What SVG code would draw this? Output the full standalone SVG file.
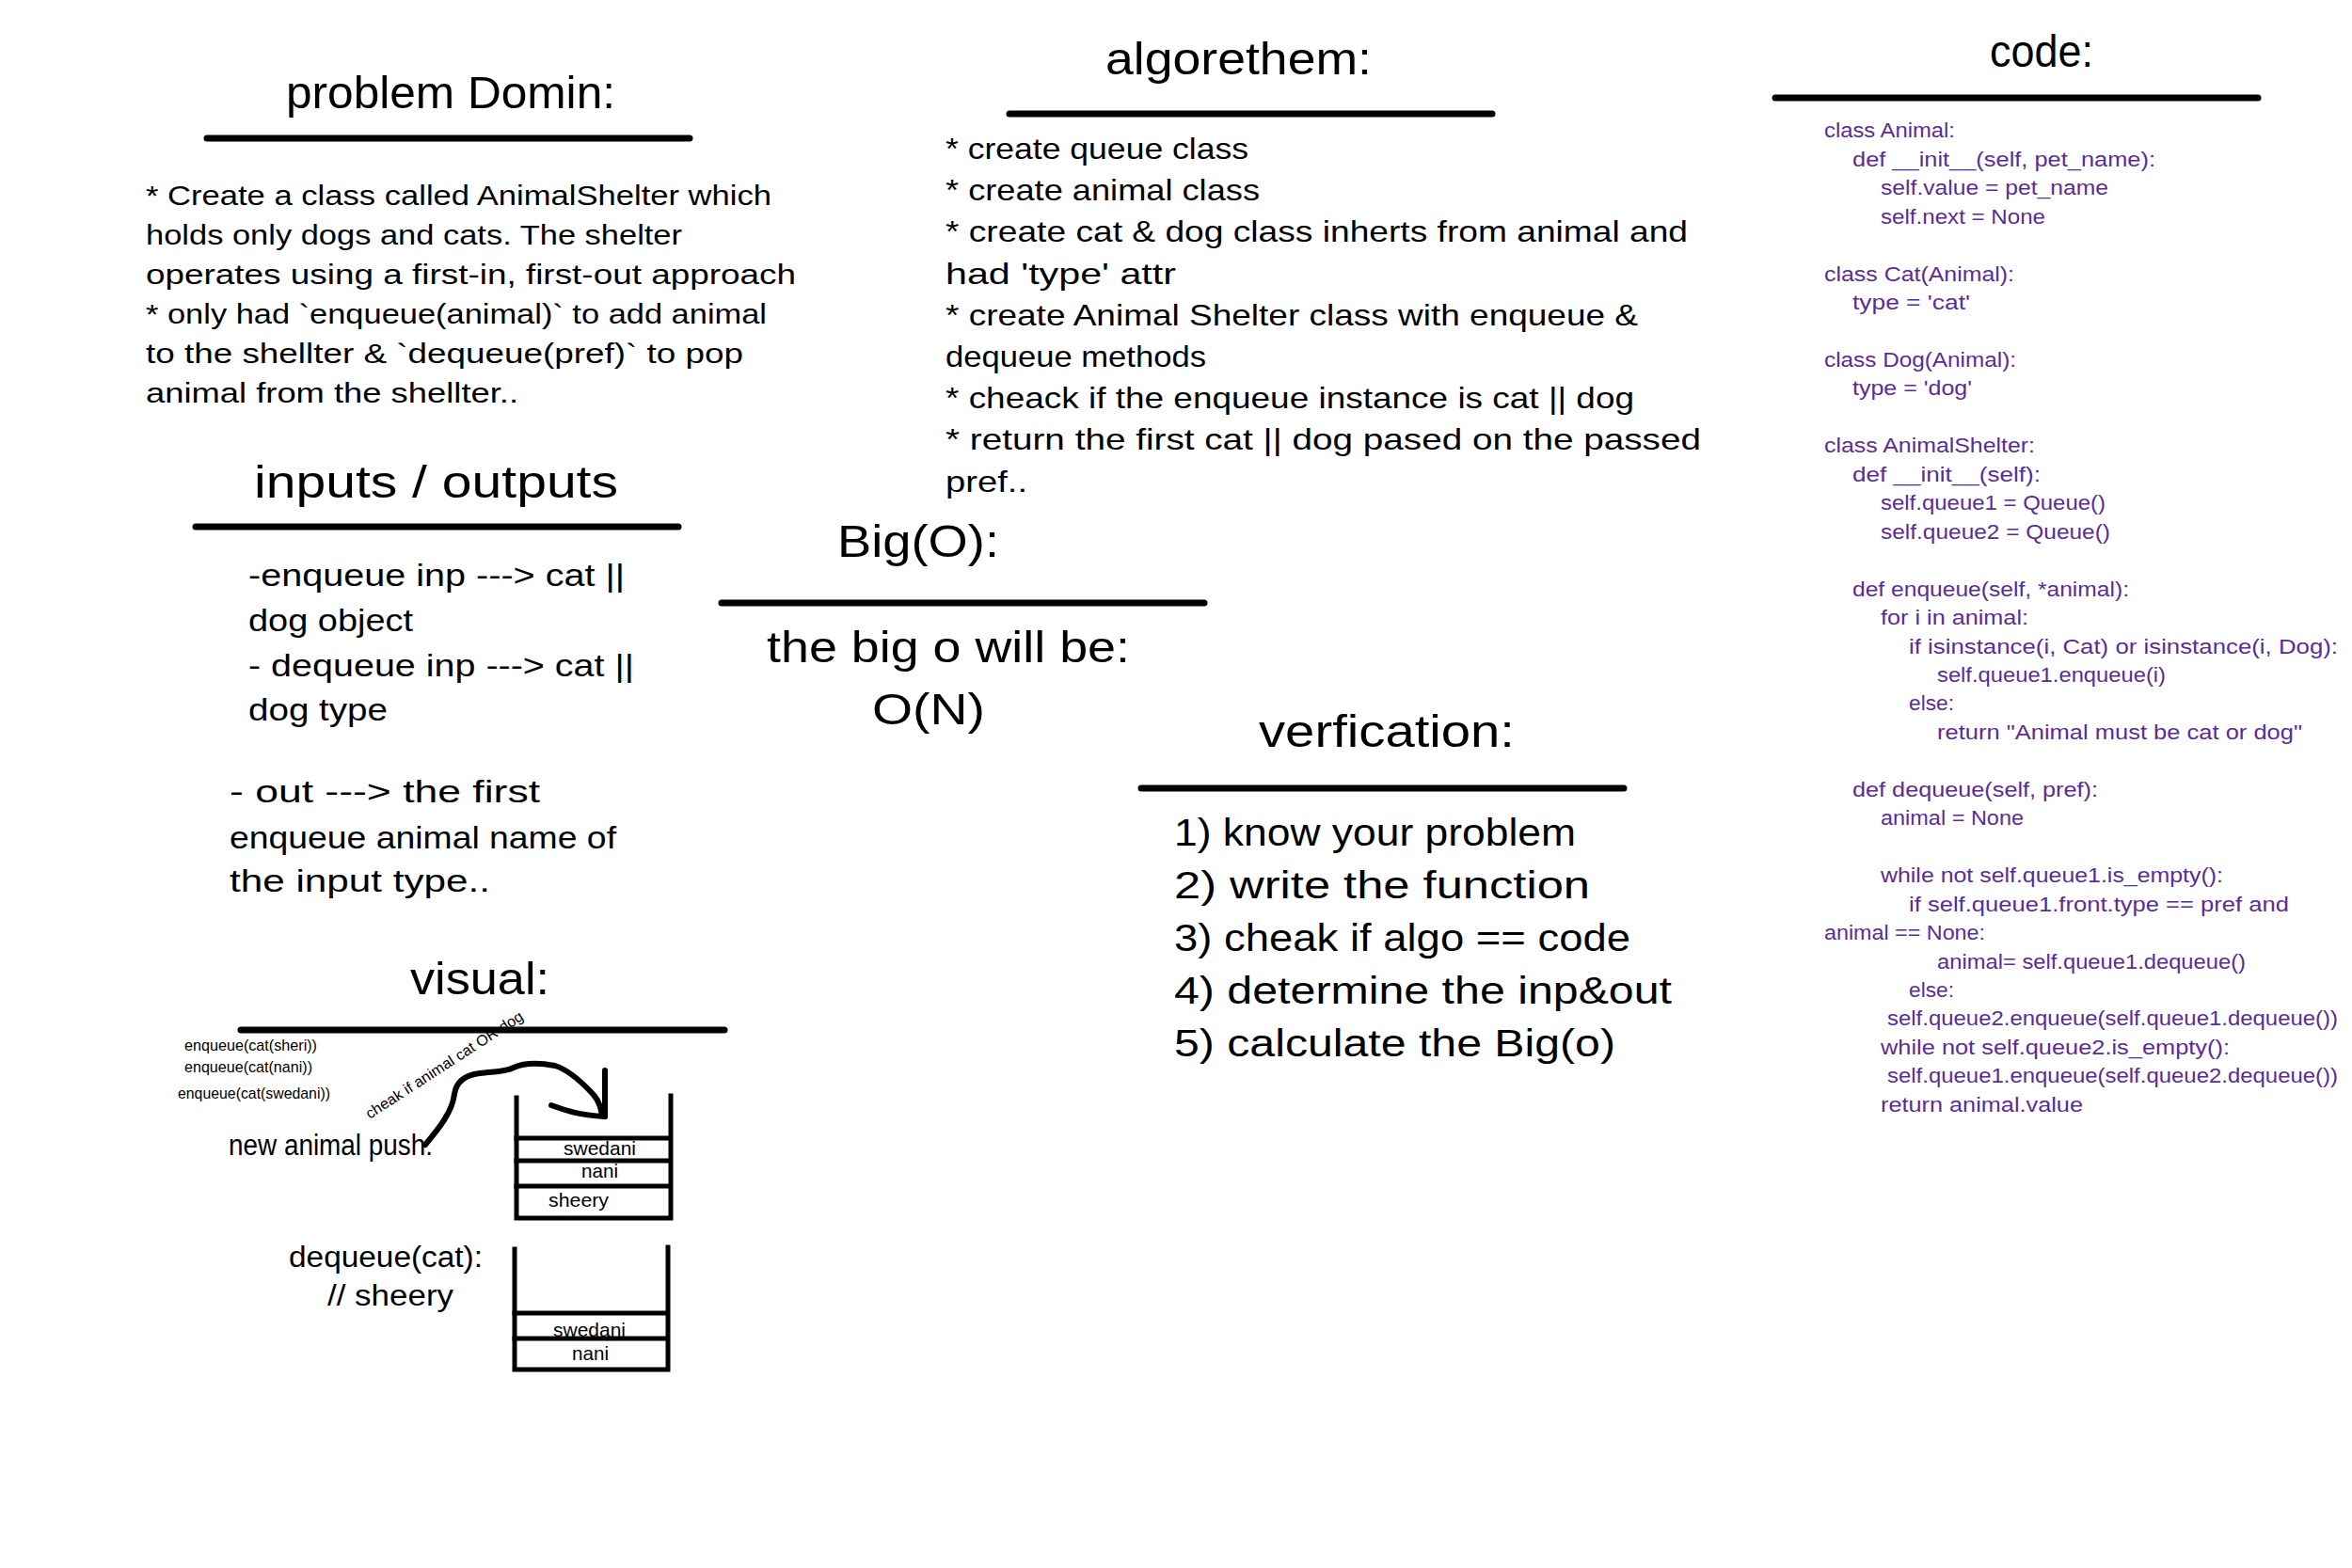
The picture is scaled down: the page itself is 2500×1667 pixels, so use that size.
<svg xmlns="http://www.w3.org/2000/svg" width="2500" height="1667" viewBox="0 0 2500 1667">
<style>
text{font-family:"Liberation Sans",Arial,sans-serif;fill:#000}
.title{font-size:48px}
.pd{font-size:30px}
.alg{font-size:32px}
.io{font-size:34px}
.bo{font-size:46px}
.ver{font-size:40px}
.code{font-size:22px;fill:#5b2c98}
.sm{font-size:17px}
.rot{font-size:16px}
.lab{font-size:21px}
.mid{font-size:31px}
.rule{stroke:#000;stroke-width:7;stroke-linecap:round;fill:none}
.stk{stroke:#000;stroke-width:5;fill:none;stroke-linecap:square}
.conn{stroke:#000;stroke-width:6;fill:none;stroke-linecap:round;stroke-linejoin:round}
</style>
<rect width="2500" height="1667" fill="#fff"/>

<g id="problem-domain">
<text class="title" x="304" y="115" textLength="350" lengthAdjust="spacingAndGlyphs">problem Domin:</text>
<line class="rule" x1="220" y1="147" x2="733" y2="147"/>
<text class="pd" x="155" y="218" textLength="665" lengthAdjust="spacingAndGlyphs">* Create a class called AnimalShelter which</text>
<text class="pd" x="155" y="260" textLength="570" lengthAdjust="spacingAndGlyphs">holds only dogs and cats. The shelter</text>
<text class="pd" x="155" y="302" textLength="691" lengthAdjust="spacingAndGlyphs">operates using a first-in, first-out approach</text>
<text class="pd" x="155" y="344" textLength="660" lengthAdjust="spacingAndGlyphs">* only had `enqueue(animal)` to add animal</text>
<text class="pd" x="155" y="386" textLength="635" lengthAdjust="spacingAndGlyphs">to the shellter &amp; `dequeue(pref)` to pop</text>
<text class="pd" x="155" y="428" textLength="396" lengthAdjust="spacingAndGlyphs">animal from the shellter..</text>
</g>

<g id="inputs-outputs">
<text class="title" x="270" y="529" textLength="387" lengthAdjust="spacingAndGlyphs">inputs / outputs</text>
<line class="rule" x1="208" y1="560" x2="721" y2="560"/>
<text class="io" x="264" y="623" textLength="400" lengthAdjust="spacingAndGlyphs">-enqueue inp ---&gt; cat ||</text>
<text class="io" x="264" y="671" textLength="175" lengthAdjust="spacingAndGlyphs">dog object</text>
<text class="io" x="264" y="719" textLength="410" lengthAdjust="spacingAndGlyphs">- dequeue inp ---&gt; cat ||</text>
<text class="io" x="264" y="766" textLength="148" lengthAdjust="spacingAndGlyphs">dog type</text>
<text class="io" x="244" y="853" textLength="330" lengthAdjust="spacingAndGlyphs">- out ---&gt; the first</text>
<text class="io" x="244" y="902" textLength="411" lengthAdjust="spacingAndGlyphs">enqueue animal name of</text>
<text class="io" x="244" y="948" textLength="277" lengthAdjust="spacingAndGlyphs">the input type..</text>
</g>

<g id="algorithm">
<text class="title" x="1175" y="79" textLength="283" lengthAdjust="spacingAndGlyphs">algorethem:</text>
<line class="rule" x1="1073" y1="121" x2="1586" y2="121"/>
<text class="alg" x="1005" y="169" textLength="322" lengthAdjust="spacingAndGlyphs">* create queue class</text>
<text class="alg" x="1005" y="213" textLength="334" lengthAdjust="spacingAndGlyphs">* create animal class</text>
<text class="alg" x="1005" y="257" textLength="789" lengthAdjust="spacingAndGlyphs">* create cat &amp; dog class inherts from animal and</text>
<text class="alg" x="1005" y="302" textLength="245" lengthAdjust="spacingAndGlyphs">had 'type' attr</text>
<text class="alg" x="1005" y="346" textLength="736" lengthAdjust="spacingAndGlyphs">* create Animal Shelter class with enqueue &amp;</text>
<text class="alg" x="1005" y="390" textLength="277" lengthAdjust="spacingAndGlyphs">dequeue methods</text>
<text class="alg" x="1005" y="434" textLength="732" lengthAdjust="spacingAndGlyphs">* cheack if the enqueue instance is cat || dog</text>
<text class="alg" x="1005" y="478" textLength="803" lengthAdjust="spacingAndGlyphs">* return the first cat || dog pased on the passed</text>
<text class="alg" x="1005" y="523" textLength="87" lengthAdjust="spacingAndGlyphs">pref..</text>
</g>

<g id="big-o">
<text class="title" x="890" y="592" textLength="172" lengthAdjust="spacingAndGlyphs">Big(O):</text>
<line class="rule" x1="767" y1="641" x2="1280" y2="641"/>
<text class="bo" x="815" y="704" textLength="386" lengthAdjust="spacingAndGlyphs">the big o will be:</text>
<text class="bo" x="927" y="770" textLength="120" lengthAdjust="spacingAndGlyphs">O(N)</text>
</g>

<g id="verification">
<text class="title" x="1338" y="794" textLength="272" lengthAdjust="spacingAndGlyphs">verfication:</text>
<line class="rule" x1="1213" y1="838" x2="1726" y2="838"/>
<text class="ver" x="1248" y="899" textLength="427" lengthAdjust="spacingAndGlyphs">1) know your problem</text>
<text class="ver" x="1248" y="955" textLength="442" lengthAdjust="spacingAndGlyphs">2) write the function</text>
<text class="ver" x="1248" y="1011" textLength="485" lengthAdjust="spacingAndGlyphs">3) cheak if algo == code</text>
<text class="ver" x="1248" y="1067" textLength="529" lengthAdjust="spacingAndGlyphs">4) determine the inp&amp;out</text>
<text class="ver" x="1248" y="1123" textLength="469" lengthAdjust="spacingAndGlyphs">5) calculate the Big(o)</text>
</g>

<g id="code">
<text class="title" x="2115" y="71" textLength="110" lengthAdjust="spacingAndGlyphs">code:</text>
<line class="rule" x1="1887" y1="104" x2="2400" y2="104"/>
<text class="code" x="1939" y="146" textLength="139" lengthAdjust="spacingAndGlyphs">class Animal:</text>
<text class="code" x="1969" y="177" textLength="322" lengthAdjust="spacingAndGlyphs">def __init__(self, pet_name):</text>
<text class="code" x="1999" y="207" textLength="242" lengthAdjust="spacingAndGlyphs">self.value = pet_name</text>
<text class="code" x="1999" y="238" textLength="175" lengthAdjust="spacingAndGlyphs">self.next = None</text>
<text class="code" x="1939" y="299" textLength="202" lengthAdjust="spacingAndGlyphs">class Cat(Animal):</text>
<text class="code" x="1969" y="329" textLength="125" lengthAdjust="spacingAndGlyphs">type = 'cat'</text>
<text class="code" x="1939" y="390" textLength="204" lengthAdjust="spacingAndGlyphs">class Dog(Animal):</text>
<text class="code" x="1969" y="420" textLength="127" lengthAdjust="spacingAndGlyphs">type = 'dog'</text>
<text class="code" x="1939" y="481" textLength="224" lengthAdjust="spacingAndGlyphs">class AnimalShelter:</text>
<text class="code" x="1969" y="512" textLength="200" lengthAdjust="spacingAndGlyphs">def __init__(self):</text>
<text class="code" x="1999" y="542" textLength="239" lengthAdjust="spacingAndGlyphs">self.queue1 = Queue()</text>
<text class="code" x="1999" y="573" textLength="244" lengthAdjust="spacingAndGlyphs">self.queue2 = Queue()</text>
<text class="code" x="1969" y="634" textLength="294" lengthAdjust="spacingAndGlyphs">def enqueue(self, *animal):</text>
<text class="code" x="1999" y="664" textLength="157" lengthAdjust="spacingAndGlyphs">for i in animal:</text>
<text class="code" x="2029" y="695" textLength="456" lengthAdjust="spacingAndGlyphs">if isinstance(i, Cat) or isinstance(i, Dog):</text>
<text class="code" x="2059" y="725" textLength="243" lengthAdjust="spacingAndGlyphs">self.queue1.enqueue(i)</text>
<text class="code" x="2029" y="755" textLength="48" lengthAdjust="spacingAndGlyphs">else:</text>
<text class="code" x="2059" y="786" textLength="388" lengthAdjust="spacingAndGlyphs">return "Animal must be cat or dog"</text>
<text class="code" x="1969" y="847" textLength="261" lengthAdjust="spacingAndGlyphs">def dequeue(self, pref):</text>
<text class="code" x="1999" y="877" textLength="152" lengthAdjust="spacingAndGlyphs">animal = None</text>
<text class="code" x="1999" y="938" textLength="364" lengthAdjust="spacingAndGlyphs">while not self.queue1.is_empty():</text>
<text class="code" x="2029" y="969" textLength="404" lengthAdjust="spacingAndGlyphs">if self.queue1.front.type == pref and</text>
<text class="code" x="1939" y="999" textLength="171" lengthAdjust="spacingAndGlyphs">animal == None:</text>
<text class="code" x="2059" y="1030" textLength="328" lengthAdjust="spacingAndGlyphs">animal= self.queue1.dequeue()</text>
<text class="code" x="2029" y="1060" textLength="48" lengthAdjust="spacingAndGlyphs">else:</text>
<text class="code" x="2006" y="1090" textLength="479" lengthAdjust="spacingAndGlyphs">self.queue2.enqueue(self.queue1.dequeue())</text>
<text class="code" x="1999" y="1121" textLength="371" lengthAdjust="spacingAndGlyphs">while not self.queue2.is_empty():</text>
<text class="code" x="2006" y="1151" textLength="479" lengthAdjust="spacingAndGlyphs">self.queue1.enqueue(self.queue2.dequeue())</text>
<text class="code" x="1999" y="1182" textLength="215" lengthAdjust="spacingAndGlyphs">return animal.value</text>
</g>

<g id="visual">
<text class="title" x="436" y="1057" textLength="148" lengthAdjust="spacingAndGlyphs">visual:</text>
<line class="rule" x1="256" y1="1095" x2="770" y2="1095"/>
<text class="sm" x="196" y="1117" textLength="141" lengthAdjust="spacingAndGlyphs">enqueue(cat(sheri))</text>
<text class="sm" x="196" y="1140" textLength="136" lengthAdjust="spacingAndGlyphs">enqueue(cat(nani))</text>
<text class="sm" x="189" y="1168" textLength="162" lengthAdjust="spacingAndGlyphs">enqueue(cat(swedani))</text>
<text class="mid" x="243" y="1228" textLength="217" lengthAdjust="spacingAndGlyphs">new animal push:</text>
<text class="rot" x="393" y="1190" transform="rotate(-33 393 1190)" textLength="196" lengthAdjust="spacingAndGlyphs">cheak if animal cat OR dog</text>
</g>

<g id="queue-after-enqueue">
<path class="stk" d="M549,1167 L549,1295 L713,1295 L713,1165"/>
<line class="stk" x1="549" y1="1210" x2="710" y2="1210"/>
<line class="stk" x1="549" y1="1234" x2="710" y2="1234"/>
<line class="stk" x1="549" y1="1261" x2="710" y2="1261"/>
<text class="lab" x="599" y="1228" textLength="77" lengthAdjust="spacingAndGlyphs">swedani</text>
<text class="lab" x="618" y="1252" textLength="39" lengthAdjust="spacingAndGlyphs">nani</text>
<text class="lab" x="583" y="1283" textLength="64" lengthAdjust="spacingAndGlyphs">sheery</text>
</g>

<g id="queue-after-dequeue">
<text class="mid" x="307" y="1347" textLength="206" lengthAdjust="spacingAndGlyphs">dequeue(cat):</text>
<text class="mid" x="348" y="1388" textLength="134" lengthAdjust="spacingAndGlyphs">// sheery</text>
<path class="stk" d="M547,1328 L547,1456 L710,1456 L710,1326"/>
<line class="stk" x1="547" y1="1396" x2="707" y2="1396"/>
<line class="stk" x1="547" y1="1423" x2="707" y2="1423"/>
<text class="lab" x="588" y="1421" textLength="77" lengthAdjust="spacingAndGlyphs">swedani</text>
<text class="lab" x="608" y="1446" textLength="39" lengthAdjust="spacingAndGlyphs">nani</text>
</g>

<g id="connectors">
<path class="conn" d="M452,1217 C468,1198 481,1181 483,1163 C485,1150 494,1143 510,1141 C524,1139 536,1140 546,1135 C557,1130 574,1130 590,1133 C606,1138 620,1152 631,1164 C637,1171 639,1179 640,1186"/>
<path class="conn" d="M643,1138 L643,1187"/>
<path class="conn" d="M586,1175 C600,1180 612,1185 643,1187"/>
</g>
</svg>
